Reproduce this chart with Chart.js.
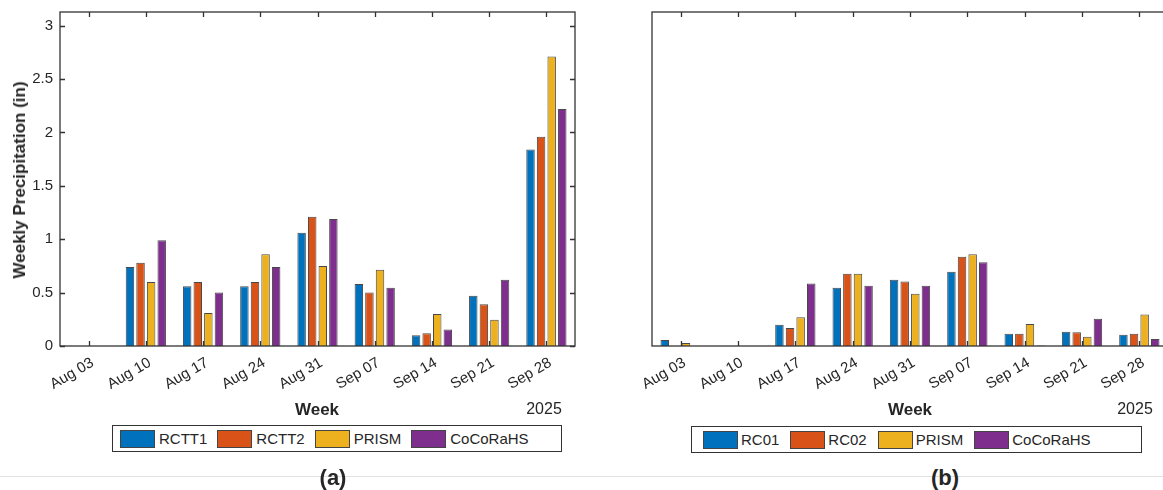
<!DOCTYPE html>
<html>
<head>
<meta charset="utf-8">
<script src="https://cdn.jsdelivr.net/npm/chart.js@4.4.1/dist/chart.umd.min.js"></script>
<style>
  html, body { margin:0; padding:0; background:#fff; width:1163px; height:490px; overflow:hidden; }
  body { position:relative; font-family:"Liberation Sans", Arial, sans-serif; color:#262626; }
  canvas { position:absolute; top:0; }
  .txt { position:absolute; white-space:nowrap; transform:translate(-50%,-50%); }
  .legend { position:absolute; box-sizing:border-box; border:1.5px solid #333; background:#fff;
            display:flex; align-items:center; font-size:15px; }
  .item { display:flex; align-items:center; }
  .sw { display:inline-block; width:33px; height:16px; border:1px solid #444; }
  .hline { position:absolute; left:0; width:1163px; top:476px; height:1px; background:#e2e2e2; }
</style>
</head>
<body>
<div class="hline"></div>
<canvas id="ca" width="590" height="420" style="left:0px"></canvas>
<canvas id="cb" width="600" height="420" style="left:600px"></canvas>

<div class="txt" style="left:20px;top:180px;transform:translate(-50%,-50%) rotate(-90deg);font-weight:bold;font-size:17px;">Weekly Precipitation (in)</div>
<div class="txt" style="left:317px;top:410px;font-weight:bold;font-size:17px;">Week</div>
<div class="txt" style="left:910px;top:410px;font-weight:bold;font-size:17px;">Week</div>
<div class="txt" style="left:544px;top:409px;font-size:16px;">2025</div>
<div class="txt" style="left:1135px;top:409px;font-size:16px;">2025</div>
<div id="lega" class="legend" style="left:112px;top:425px;width:450px;height:27px;padding-left:7px;"></div>
<div id="legb" class="legend" style="left:691px;top:426px;width:451px;height:27px;padding-left:11px;"></div>
<div class="txt" style="left:333px;top:478px;font-weight:bold;font-size:22px;">(a)</div>
<div class="txt" style="left:945px;top:478px;font-weight:bold;font-size:22px;">(b)</div>

<script>
// ---- data ----
const weeks = ['Aug 03','Aug 10','Aug 17','Aug 24','Aug 31','Sep 07','Sep 14','Sep 21','Sep 28'];
const yTicks = [0, 0.5, 1, 1.5, 2, 2.5, 3];

const seriesNamesA = ['RCTT1','RCTT2','PRISM','CoCoRaHS'];
const a_rctt1    = [0, 0.74, 0.56, 0.56, 1.06, 0.58, 0.10, 0.47, 1.84];
const a_rctt2    = [0, 0.78, 0.60, 0.60, 1.21, 0.50, 0.12, 0.39, 1.96];
const a_prism    = [0, 0.60, 0.31, 0.86, 0.75, 0.715, 0.30, 0.245, 2.71];
const a_cocorahs = [0, 0.99, 0.50, 0.74, 1.19, 0.545, 0.155, 0.62, 2.22];

const seriesNamesB = ['RC01','RC02','PRISM','CoCoRaHS'];
const b_rc01     = [0.056, 0, 0.20, 0.545, 0.62, 0.696, 0.115, 0.134, 0.106];
const b_rc02     = [0, 0, 0.168, 0.677, 0.605, 0.836, 0.115, 0.128, 0.115];
const b_prism    = [0.028, 0, 0.27, 0.677, 0.49, 0.858, 0.205, 0.087, 0.296];
const b_cocorahs = [0, 0, 0.586, 0.564, 0.564, 0.783, 0.004, 0.256, 0.065];

const colors = ['#0072BD', '#D95319', '#EDB120', '#7E2F8E'];
const yMax = 3.127;

// ---- helpers ----
const FONT = '"Liberation Sans", Arial, sans-serif';
Chart.defaults.font.family = FONT;
Chart.defaults.color = '#262626';

const framePlugin = {
  id: 'frame',
  afterDraw(chart, args, opts) {
    const {ctx, chartArea: a, scales} = chart;
    const tl = 5;
    ctx.save();
    ctx.strokeStyle = '#333';
    ctx.lineWidth = 1.3;
    ctx.strokeRect(a.left, a.top, a.right - a.left, a.bottom - a.top);
    ctx.beginPath();
    const xs = scales.x;
    xs.ticks.forEach((t, i) => {
      const px = Math.round(xs.getPixelForTick(i)) + 0.5;
      ctx.moveTo(px, a.bottom); ctx.lineTo(px, a.bottom - tl);
      ctx.moveTo(px, a.top); ctx.lineTo(px, a.top + tl);
    });
    if (opts.yTicks) {
      const ys = scales.y;
      ys.ticks.forEach((t, i) => {
        const py = Math.round(ys.getPixelForTick(i)) + 0.5;
        ctx.moveTo(a.left, py); ctx.lineTo(a.left + tl, py);
        ctx.moveTo(a.right, py); ctx.lineTo(a.right - tl, py);
      });
    }
    ctx.stroke();
    ctx.restore();
  }
};

function makeChart(id, names, series, yWidth, padRight, showY) {
  return new Chart(document.getElementById(id), {
    type: 'bar',
    data: {
      labels: weeks,
      datasets: series.map((d, i) => ({
        label: names[i], data: d,
        backgroundColor: colors[i], borderColor: 'rgba(40,40,40,0.85)', borderWidth: 1,
        categoryPercentage: 0.74, barPercentage: 0.8
      }))
    },
    options: {
      responsive: false, animation: false,
      layout: { padding: { top: 12, right: padRight, left: 0, bottom: 0 } },
      plugins: { legend: { display: false }, tooltip: { enabled: false }, frame: { yTicks: showY } },
      scales: {
        x: {
          grid: { display: false, drawTicks: false }, border: { display: false },
          ticks: { autoSkip: false, minRotation: 30, maxRotation: 30, padding: 8, labelOffset: 4,
                   color: '#262626', font: { size: 15 } },
          afterFit: s => { s.height = 74; s.paddingLeft = 0; s.paddingRight = 0; }
        },
        y: {
          min: 0, max: yMax,
          afterBuildTicks: s => { s.ticks = yTicks.map(v => ({ value: v })); },
          grid: { display: false, drawTicks: false }, border: { display: false },
          ticks: { display: showY, padding: 7, color: '#262626', font: { size: 15 }, callback: v => String(v) },
          afterFit: s => { s.width = yWidth; s.paddingTop = 0; s.paddingBottom = 0; }
        }
      }
    },
    plugins: [framePlugin]
  });
}

makeChart('ca', seriesNamesA, [a_rctt1, a_rctt2, a_prism, a_cocorahs], 60, 15, true);
makeChart('cb', seriesNamesB, [b_rc01, b_rc02, b_prism, b_cocorahs], 52, 32, false);

function buildLegend(id, names, gap, swGap) {
  const el = document.getElementById(id);
  names.forEach((n, i) => {
    const it = document.createElement('div');
    it.className = 'item';
    if (i > 0) it.style.marginLeft = gap + 'px';
    const sw = document.createElement('span');
    sw.className = 'sw';
    sw.style.background = colors[i];
    const tx = document.createElement('span');
    tx.textContent = n;
    tx.style.marginLeft = swGap + 'px';
    it.appendChild(sw); it.appendChild(tx);
    el.appendChild(it);
  });
}
buildLegend('lega', seriesNamesA, 10, 4);
buildLegend('legb', seriesNamesB, 11, 3);
</script>
</body>
</html>
